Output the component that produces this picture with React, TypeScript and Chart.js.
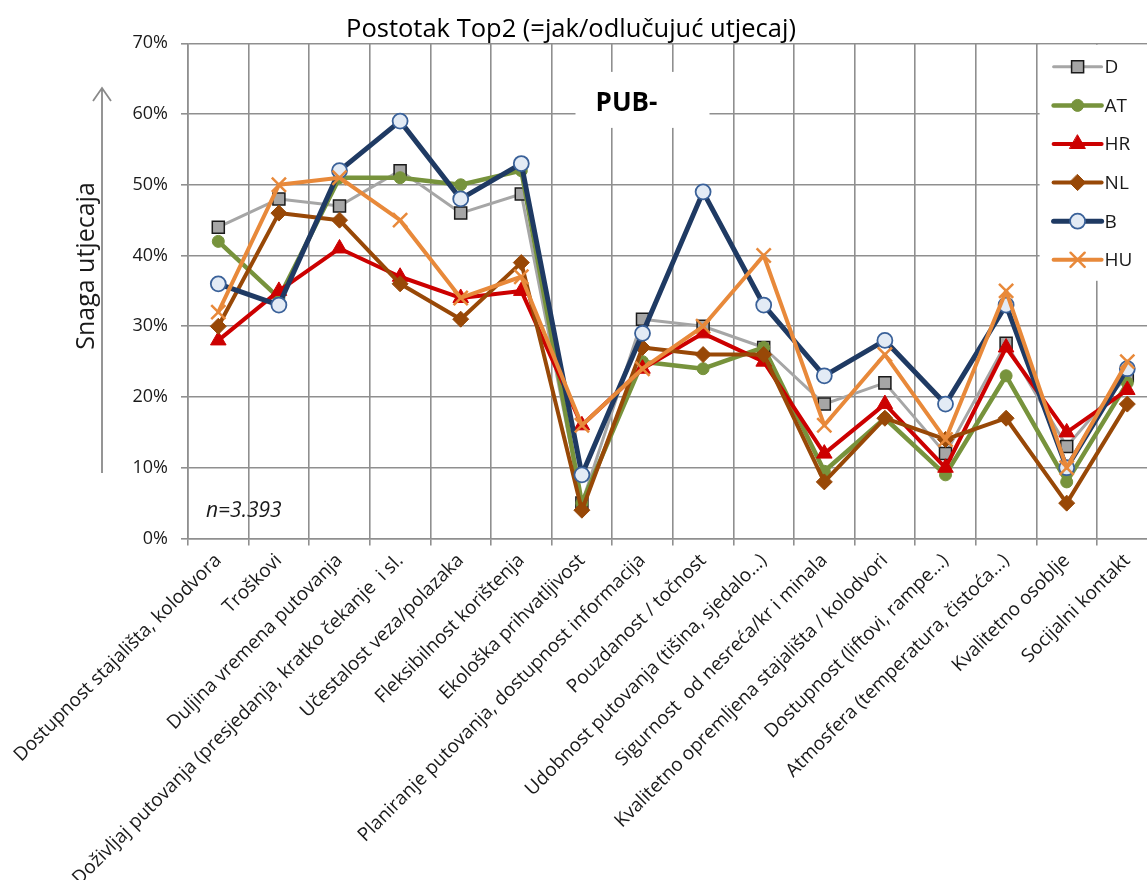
import React, { useEffect, useRef } from 'react';
import { Chart, registerables } from 'chart.js';

Chart.register(...registerables);

const FONT = '"Open Sans", "DejaVu Sans", sans-serif';

const categories = [
  'Dostupnost stajališta, kolodvora',
  'Troškovi',
  'Duljina vremena putovanja',
  'Doživljaj putovanja (presjedanja, kratko čekanje  i sl.',
  'Učestalost veza/polazaka',
  'Fleksibilnost korištenja',
  'Ekološka prihvatljivost',
  'Planiranje putovanja, dostupnost informacija',
  'Pouzdanost / točnost',
  'Udobnost putovanja (tišina, sjedalo...)',
  'Sigurnost  od nesreća/kr i minala',
  'Kvalitetno opremljena stajališta / kolodvori',
  'Dostupnost (liftovi, rampe...)',
  'Atmosfera (temperatura, čistoća...)',
  'Kvalitetno osoblje',
  'Socijalni kontakt',
];

const seriesNames = ['D', 'AT', 'HR', 'NL', 'B', 'HU'];

const valuesD = [44, 48, 47, 52, 46, 48.7, 5, 31, 30, 27, 19, 22, 12, 27.6, 13, 23];
const valuesAT = [42, 34, 51, 51, 50, 52, 5, 25, 24, 27, 9.5, 17, 9, 23, 8, 22];
const valuesHR = [28, 35, 41, 37, 34, 35, 16, 24, 29, 25, 12, 19, 10, 27, 15, 21];
const valuesNL = [30, 46, 45, 36, 31, 39, 4, 27, 26, 26, 8, 17, 14, 17, 5, 19];
const valuesB = [36, 33, 52, 59, 48, 53, 9, 29, 49, 33, 23, 28, 19, 33, 10, 24];
const valuesHU = [32, 50, 51, 45, 34, 37, 16, 24, 30, 40, 16, 26, 14, 35, 10, 25];

const yTickLabels = ['0%', '10%', '20%', '30%', '40%', '50%', '60%', '70%'];

const chartTitle = 'Postotak Top2 (=jak/odlučujuć utjecaj)';
const yAxisTitle = 'Snaga utjecaja';
const badgeText = 'PUB-';
const sampleText = 'n=3.393';

const allValues = [valuesD, valuesAT, valuesHR, valuesNL, valuesB, valuesHU];

type Style = {
  line: string;
  width: number;
  point: string;
  radius: number;
  fill: string;
  stroke: string;
  strokeWidth: number;
};

const styles: Style[] = [
  { line: '#A6A6A6', width: 3, point: 'rect', radius: 8.5, fill: '#A6A6A6', stroke: '#1a1a1a', strokeWidth: 1.5 },
  { line: '#77933C', width: 4.5, point: 'circle', radius: 6, fill: '#77933C', stroke: '#77933C', strokeWidth: 1 },
  { line: '#CC0000', width: 4, point: 'triangle', radius: 9, fill: '#CC0000', stroke: '#CC0000', strokeWidth: 1 },
  { line: '#984807', width: 4, point: 'rectRot', radius: 8, fill: '#984807', stroke: '#984807', strokeWidth: 1 },
  { line: '#1F3A63', width: 5, point: 'circle', radius: 7.5, fill: '#E3EBF5', stroke: '#3A6199', strokeWidth: 1.8 },
  { line: '#E8893A', width: 4, point: 'crossRot', radius: 10, fill: '#E8893A', stroke: '#E8893A', strokeWidth: 2.5 },
];

const CANVAS_W = 1180;
const CANVAS_H = 880;
const GRID = '#8f8f8f';
const TEXT = '#1a1a1a';

function drawMarker(ctx: CanvasRenderingContext2D, s: Style, x: number, y: number) {
  const r = s.radius;
  ctx.save();
  ctx.beginPath();
  ctx.fillStyle = s.fill;
  ctx.strokeStyle = s.stroke;
  ctx.lineWidth = s.strokeWidth;
  if (s.point === 'rect') {
    const h = r * Math.SQRT1_2;
    ctx.rect(x - h, y - h, 2 * h, 2 * h);
  } else if (s.point === 'circle') {
    ctx.arc(x, y, r, 0, Math.PI * 2);
  } else if (s.point === 'triangle') {
    ctx.moveTo(x, y - r);
    ctx.lineTo(x + 0.866 * r, y + 0.5 * r);
    ctx.lineTo(x - 0.866 * r, y + 0.5 * r);
    ctx.closePath();
  } else if (s.point === 'rectRot') {
    ctx.moveTo(x, y - r);
    ctx.lineTo(x + r, y);
    ctx.lineTo(x, y + r);
    ctx.lineTo(x - r, y);
    ctx.closePath();
  } else if (s.point === 'crossRot') {
    const d = r * Math.SQRT1_2;
    ctx.moveTo(x - d, y - d);
    ctx.lineTo(x + d, y + d);
    ctx.moveTo(x + d, y - d);
    ctx.lineTo(x - d, y + d);
  }
  if (s.point !== 'crossRot') ctx.fill();
  ctx.stroke();
  ctx.restore();
}

const overlayPlugin = {
  id: 'overlay',
  beforeDatasetsDraw(chart: any) {
    const { ctx, chartArea, scales } = chart;
    ctx.save();
    ctx.fillStyle = '#ffffff';
    // white box behind the badge
    const bx = scales.x.getPixelForValue(7);
    const by = scales.y.getPixelForValue(62);
    ctx.fillRect(bx - 67, by - 28, 134, 56);
    // white box behind the legend
    ctx.fillRect(chartArea.right - 118, chartArea.top + 1.5, 130, 236);
    ctx.restore();
  },
  afterDraw(chart: any) {
    const { ctx, chartArea, scales } = chart;
    ctx.save();
    // title
    ctx.fillStyle = '#000';
    ctx.font = `25.5px ${FONT}`;
    ctx.textAlign = 'center';
    ctx.textBaseline = 'alphabetic';
    ctx.fillText(chartTitle, 571, 37);

    // badge
    const bx = scales.x.getPixelForValue(7);
    ctx.font = `bold 26px ${FONT}`;
    ctx.fillText(badgeText, bx - 16, 111);

    // n label
    ctx.font = `italic 21px ${FONT}`;
    ctx.textAlign = 'left';
    ctx.fillStyle = TEXT;
    ctx.fillText(sampleText, chartArea.left + 18, 517);

    // y axis title
    ctx.save();
    ctx.translate(87, 266);
    ctx.rotate(-Math.PI / 2);
    ctx.textAlign = 'center';
    ctx.textBaseline = 'middle';
    ctx.font = `25px ${FONT}`;
    ctx.fillStyle = TEXT;
    ctx.fillText(yAxisTitle, 0, 0);
    ctx.restore();

    // arrow
    ctx.strokeStyle = '#8a8a8a';
    ctx.lineWidth = 1.8;
    ctx.beginPath();
    ctx.moveTo(102, 473);
    ctx.lineTo(102, 88);
    ctx.moveTo(93, 101);
    ctx.lineTo(102, 88);
    ctx.lineTo(111, 101);
    ctx.stroke();

    // legend
    const lx0 = chartArea.right - 104;
    const lx1 = lx0 + 48;
    for (let i = 0; i < seriesNames.length; i++) {
      const s = styles[i];
      const y = chartArea.top + 23.5 + i * 38.6;
      ctx.strokeStyle = s.line;
      ctx.lineWidth = s.width;
      ctx.lineCap = 'round';
      ctx.beginPath();
      ctx.moveTo(lx0, y);
      ctx.lineTo(lx1, y);
      ctx.stroke();
      drawMarker(ctx, s, (lx0 + lx1) / 2, y);
      ctx.fillStyle = TEXT;
      ctx.font = `19px ${FONT}`;
      ctx.textAlign = 'left';
      ctx.textBaseline = 'middle';
      ctx.fillText(seriesNames[i], lx1 + 3, y + 1);
    }
    ctx.restore();
  },
};

export default function App() {
  const ref = useRef<HTMLCanvasElement>(null);
  useEffect(() => {
    if (!ref.current) return;
    const datasets = allValues.map((vals, i) => {
      const s = styles[i];
      return {
        label: seriesNames[i],
        data: vals,
        borderColor: s.line,
        backgroundColor: s.fill,
        borderWidth: s.width,
        borderJoinStyle: 'round' as const,
        borderCapStyle: 'round' as const,
        pointStyle: s.point,
        pointRadius: s.radius,
        pointHoverRadius: s.radius,
        pointBackgroundColor: s.fill,
        pointBorderColor: s.stroke,
        pointBorderWidth: s.strokeWidth,
        tension: 0,
        order: seriesNames.length - i,
        clip: false as any,
      };
    });
    const chart = new Chart(ref.current, {
      type: 'line',
      data: { labels: categories, datasets },
      options: {
        animation: false,
        responsive: false,
        devicePixelRatio: 1,
        layout: { padding: { top: 43.3, right: 22.4, left: 0, bottom: 0 } },
        plugins: {
          legend: { display: false },
          title: { display: false },
          tooltip: { enabled: false },
        },
        scales: {
          x: {
            type: 'category',
            offset: true,
            grid: { offset: true, color: GRID, lineWidth: 1.6, tickLength: 7 },
            border: { color: GRID, width: 1.6 },
            ticks: {
              autoSkip: false,
              maxRotation: 45,
              minRotation: 45,
              padding: 4,
              color: TEXT,
              font: { family: FONT, size: 19 },
            },
            afterFit(scale: any) {
              scale.height = 341.5;
              scale.paddingLeft = 0;
              scale.paddingRight = 0;
            },
          },
          y: {
            min: 0,
            max: 70,
            ticks: {
              stepSize: 10,
              padding: 13,
              color: TEXT,
              font: { family: FONT, size: 18 },
              callback: (_v: any, i: number) => yTickLabels[i],
            },
            grid: { color: GRID, lineWidth: 1.6, tickLength: 7 },
            border: { color: GRID, width: 1.6 },
            afterFit(scale: any) {
              scale.width = 188;
              scale.paddingTop = 0;
              scale.paddingBottom = 0;
            },
          },
        },
      },
      plugins: [overlayPlugin],
    });
    return () => chart.destroy();
  }, []);
  return (
    <div
      style={{
        position: 'absolute',
        left: 0,
        top: 0,
        width: 1147,
        height: 880,
        overflow: 'hidden',
        background: '#fff',
      }}
    >
      <canvas
        ref={ref}
        width={CANVAS_W}
        height={CANVAS_H}
        style={{ display: 'block', width: CANVAS_W, height: CANVAS_H }}
      />
    </div>
  );
}
